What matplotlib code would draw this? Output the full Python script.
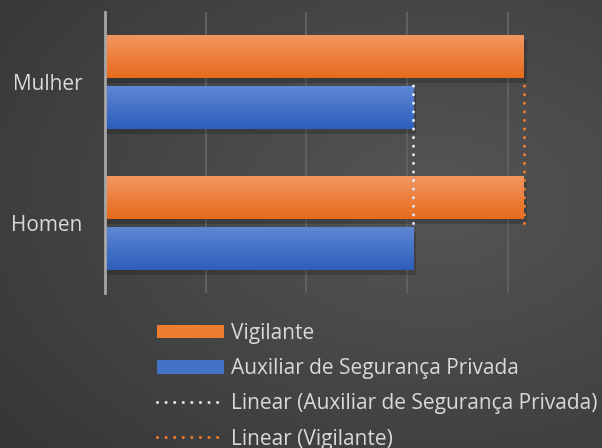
import numpy as np
import matplotlib
matplotlib.use('Agg')
import matplotlib.pyplot as plt
from matplotlib.patches import Patch
from matplotlib.lines import Line2D

# data
categorias = ['Homen', 'Mulher']
vigilante = [4.16, 4.16]
auxiliar = [3.06, 3.06]
series_nomes = ['Vigilante', 'Auxiliar de Segurança Privada']
legenda_linear = ['Linear (Auxiliar de Segurança Privada)', 'Linear (Vigilante)']

cor_laranja = '#ED7D31'
cor_azul = '#4472C4'
cor_texto = '#D9D9D9'
plt.rcParams['font.family'] = ['Open Sans', 'DejaVu Sans']
fs = 15

fig = plt.figure(figsize=(6.02, 4.48), dpi=100)

# background gradient (radial-ish, like the Excel dark style)
bg = fig.add_axes([0, 0, 1, 1], zorder=-10)
yy, xx = np.mgrid[0:1:300j, 0:1:400j]
r = np.sqrt(((xx - 0.72) / 1.0) ** 2 + ((yy - 0.55) / 0.9) ** 2)
shade = np.clip(0.335 - 0.13 * r, 0.2, 0.34)
bg.imshow(np.dstack([shade] * 3), aspect='auto', extent=[0, 1, 0, 1], origin='lower')
bg.axis('off')

ax = fig.add_axes([105 / 602, 1 - 293 / 448, (558 - 105) / 602, 281 / 448])
ax.set_facecolor('none')

y = np.arange(len(categorias))
h = 0.306
off = h / 2 + 0.028

def grad_bars(vals, ypos, c_top, c_bot):
    bars = ax.barh(ypos, vals, height=h, color=c_bot, zorder=3)
    for b in bars:
        # soft shadow
        ax.add_patch(plt.Rectangle((b.get_x(), b.get_y() - 0.035), b.get_width() + 0.03, h,
                                   color='black', alpha=0.18, zorder=2, lw=0))
        g = np.linspace(0, 1, 50)[:, None]
        ct = np.array(matplotlib.colors.to_rgb(c_top))
        cb = np.array(matplotlib.colors.to_rgb(c_bot))
        img = ct[None, None, :] * (1 - g[..., None]) + cb[None, None, :] * g[..., None]
        im = ax.imshow(img, aspect='auto', zorder=4,
                       extent=[b.get_x(), b.get_x() + b.get_width(), b.get_y(), b.get_y() + h],
                       origin='upper')
        im.set_clip_path(b)
    return bars

grad_bars(vigilante, y + off, '#F29660', '#E76A1C')
grad_bars(auxiliar, y - off, '#5E86D3', '#2E5FBC')

# linear trendlines
ax.plot(auxiliar, y, color='#DCE6F5', lw=2.2, linestyle=(0, (0.01, 2.8)),
        dash_capstyle='round', zorder=5)
ax.plot(vigilante, y, color=cor_laranja, lw=2.2, linestyle=(0, (0.01, 2.8)),
        dash_capstyle='round', zorder=5)

ax.set_xlim(0, 4.5)
ax.set_ylim(-0.5, 1.5)
ax.set_xticks([1, 2, 3, 4])
ax.set_xticklabels([])
ax.tick_params(axis='x', length=0)
ax.grid(axis='x', color='#606060', lw=1.5, zorder=0)
ax.set_yticks(y)
ax.set_yticklabels(categorias, color=cor_texto, fontsize=fs)
ax.tick_params(axis='y', length=0, pad=16)
for s in ['top', 'right', 'bottom']:
    ax.spines[s].set_visible(False)
ax.spines['left'].set_color('#A6A6A6')
ax.spines['left'].set_linewidth(2)
ax.spines['left'].set_zorder(6)

handles = [
    Patch(facecolor=cor_laranja, edgecolor='none'),
    Patch(facecolor=cor_azul, edgecolor='none'),
    Line2D([0], [0], color='#DCE6F5', lw=2.2, linestyle=(0, (0.01, 2.8)), dash_capstyle='round'),
    Line2D([0], [0], color=cor_laranja, lw=2.2, linestyle=(0, (0.01, 2.8)), dash_capstyle='round'),
]
labels = series_nomes + legenda_linear
leg = fig.legend(handles, labels, loc='upper left', bbox_to_anchor=(157 / 602, 1 - 323 / 448),
                 frameon=False, fontsize=fs, labelcolor=cor_texto, handlelength=3.2,
                 handleheight=0.62, handletextpad=0.33, labelspacing=0.68, borderaxespad=0,
                 borderpad=0)

fig.savefig('out.png', dpi=100)
